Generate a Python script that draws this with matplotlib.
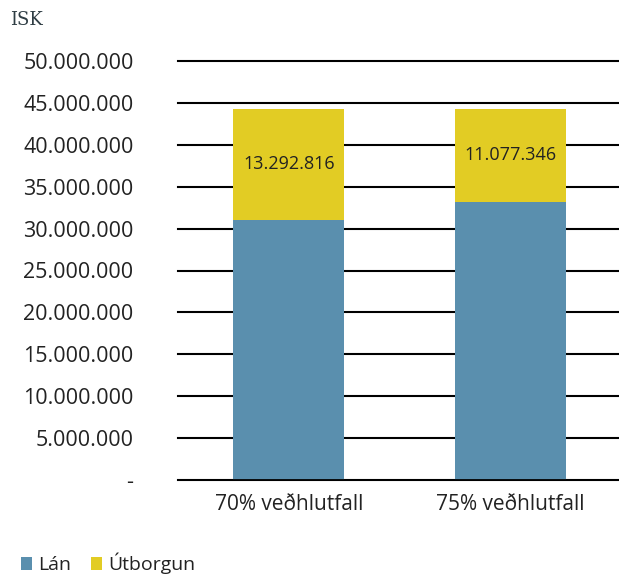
import matplotlib.pyplot as plt
import matplotlib.ticker as mticker

# data
categories = ['70% veðhlutfall', '75% veðhlutfall']
lan = [31016571, 33232040]
utborgun = [13292816, 11077346]
utborgun_labels = ['13.292.816', '11.077.346']

blue = '#5a8fae'
yellow = '#e2cc24'
txt = '#222222'

plt.rcParams['font.family'] = ['Open Sans', 'DejaVu Sans']

fig = plt.figure(figsize=(6.19, 5.79), dpi=100)
ax = fig.add_axes([178 / 619, 99 / 579, 1 - 178 / 619, 419 / 579])

x = range(len(categories))
ax.bar(x, lan, width=0.5, color=blue, zorder=3, label='Lán')
ax.bar(x, utborgun, width=0.5, bottom=lan, color=yellow, zorder=3, label='Útborgun')

for i in x:
    ax.text(i, lan[i] + utborgun[i] / 2, utborgun_labels[i], ha='center', va='center',
            fontsize=13, color=txt, zorder=4)

ax.set_ylim(0, 50000000)
ax.set_xlim(-0.5, 1.49)
ax.yaxis.set_major_locator(mticker.MultipleLocator(5000000))

def fmt(v, pos):
    if v == 0:
        return '-'
    return f'{int(v):,}'.replace(',', '.')

ax.yaxis.set_major_formatter(mticker.FuncFormatter(fmt))
ax.grid(axis='y', color='black', linewidth=1.5, zorder=0)
for gl in ax.get_ygridlines():
    gl.set_clip_on(False)
for s in ax.spines.values():
    s.set_visible(False)
ax.axhline(0, color='black', linewidth=2, zorder=4)
ax.tick_params(axis='y', length=0, pad=32, labelsize=15.5, labelcolor=txt)
ax.tick_params(axis='x', length=0, pad=10, labelsize=15, labelcolor=txt)
ax.set_xticks(list(x))
ax.set_xticklabels(categories)

fig.text(10 / 619, 1 - 20 / 579, 'ISK', fontsize=13, family='DejaVu Serif', color='#2f3d44',
         va='center', ha='left')

fig.legend(loc='lower left', bbox_to_anchor=(0.005, -0.022), ncol=2, frameon=False,
           fontsize=14, handlelength=0.6, handleheight=0.6, handletextpad=0.3,
           columnspacing=1.0, labelcolor=txt)

fig.savefig('out.png', dpi=100)
